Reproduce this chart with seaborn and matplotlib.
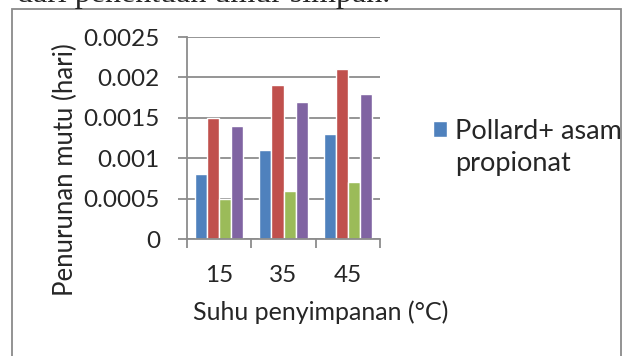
import numpy as np
import pandas as pd
import seaborn as sns
import matplotlib.pyplot as plt
from matplotlib.patches import Rectangle

# -----------------------------
# Data
# -----------------------------
suhu = ['15', '35', '45']
series_names = ['Pollard+ asam', 'Seri 2', 'Seri 3', 'Seri 4']
blue_vals = [0.0008, 0.0011, 0.0013]
red_vals = [0.0015, 0.0019, 0.0021]
green_vals = [0.0005, 0.0006, 0.0007]
purple_vals = [0.0014, 0.0017, 0.0018]
palette = ['#4F81BD', '#C0504D', '#9BBB59', '#8064A2']
y_ticks = [0, 0.0005, 0.001, 0.0015, 0.002, 0.0025]
y_labels = ['0', '0.0005', '0.001', '0.0015', '0.002', '0.0025']

df = pd.DataFrame({
    'suhu': suhu * 4,
    'seri': np.repeat(series_names, 3),
    'nilai': blue_vals + red_vals + green_vals + purple_vals,
})

sns.set_style('white')
plt.rcParams['font.family'] = ['Lato', 'DejaVu Sans']

fig = plt.figure(figsize=(6.24, 3.56), dpi=100)
ax = fig.add_axes([187 / 624, 1 - 239 / 356, 193 / 624, 202 / 356])

sns.barplot(data=df, x='suhu', y='nilai', hue='seri', palette=palette,
            width=0.75, saturation=1, ax=ax, legend=True)

grid_c = '#8c8c8c'
ax.set_ylim(0, 0.0025)
ax.set_xlim(-0.5, 2.5)
ax.set_yticks(y_ticks)
ax.set_yticklabels(y_labels)
ax.yaxis.grid(True, color=grid_c, linewidth=1.3)
ax.set_axisbelow(True)
for s in ['top', 'right']:
    ax.spines[s].set_visible(False)
for s in ['left', 'bottom']:
    ax.spines[s].set_color(grid_c)
    ax.spines[s].set_linewidth(1.3)

ax.tick_params(axis='y', which='major', length=6.5, color=grid_c, width=1.3,
               labelsize=17.5, pad=13, left=True)
ax.tick_params(axis='x', which='major', length=0, labelsize=17.5, pad=19)
ax.set_xticks([-0.5, 0.5, 1.5, 2.5], minor=True)
ax.tick_params(axis='x', which='minor', length=6.5, color=grid_c, width=1.3, bottom=True)

# axis titles are placed like the original, not centred on the plot area
ax.set_xlabel('Suhu penyimpanan (°C)', fontsize=18)
ax.set_ylabel('Penurunan mutu (hari)', fontsize=18.5)
ax.xaxis.set_label_coords(0.694, -0.305)
ax.yaxis.set_label_coords(-0.565, 0.344)

# only the first series appears in the legend of the reference;
# its label wraps, with the square next to the first line
handles, labels = ax.get_legend_handles_labels()
ax.legend(handles[:1], labels[:1], loc='center left', bbox_to_anchor=(433 / 624, 1 - 131.5 / 356),
          bbox_transform=fig.transFigure, frameon=False, fontsize=19.5,
          handlelength=0.53, handleheight=0.53, handletextpad=0.3,
          borderaxespad=0, borderpad=0)
fig.text(455 / 624, 1 - 171 / 356, 'propionat', fontsize=19.5, va='baseline', ha='left')

# outer chart border and cut-off caption text above it
fig.patches.append(Rectangle((12 / 624, -0.05), 609 / 624, 1.05 - 9 / 356,
                             transform=fig.transFigure, fill=False,
                             edgecolor='#8a8a8a', linewidth=1.3))
fig.text(17 / 624, 1 - 2 / 356, 'dari penentuan umur simpan.', fontsize=23,
         family=['Liberation Serif'], va='baseline', ha='left')

fig.savefig('out.png', dpi=100)
